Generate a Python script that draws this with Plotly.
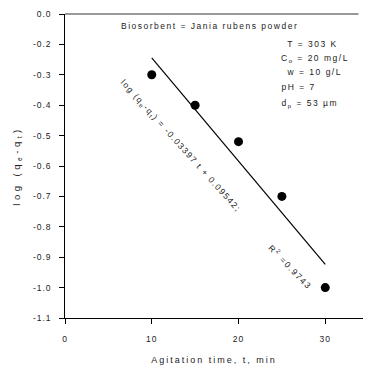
import plotly.graph_objects as go

# First-order kinetic plot: log(qe - qt) against agitation time
time_min = [10, 15, 20, 25, 30]
log_qe_qt = [-0.30, -0.40, -0.52, -0.70, -1.00]

# Fitted line: log(qe-qt) = -0.03397 t + 0.09542 (drawn over the measured span)
slope = -0.03397
intercept = 0.09542
fit_t = [10, 30]
fit_y = [slope * t + intercept for t in fit_t]

y_tickvals = [-0.1, -0.2, -0.3, -0.4, -0.5, -0.6, -0.7, -0.8, -0.9, -1.0, -1.1]
y_ticktext = ["0.0", "-0.2", "-0.3", "-0.4", "-0.5", "-0.6", "-0.7", "-0.8", "-0.9", "-1.0", "-1.1"]
x_tickvals = [0, 10, 20, 30]

FONT = "Liberation Sans, Arial, sans-serif"
TXT = "#222222"

fig = go.Figure()
fig.add_trace(go.Scatter(x=fit_t, y=fit_y, mode="lines",
                         line=dict(color="black", width=1.2), showlegend=False))
fig.add_trace(go.Scatter(x=time_min, y=log_qe_qt, mode="markers",
                         marker=dict(color="black", size=9), showlegend=False))

fig.update_layout(
    width=367, height=367,
    margin=dict(l=65, r=4, t=14, b=49),
    paper_bgcolor="white", plot_bgcolor="white",
    font=dict(family=FONT, size=8.5, color=TXT),
    xaxis=dict(range=[0, 34.35], tickvals=x_tickvals, ticks="outside", ticklen=5,
               tickcolor="black", showline=True, linecolor="black", linewidth=1,
               showgrid=False, zeroline=False, ticklabelstandoff=8,
               tickfont=dict(size=8.5),
               title=dict(text="Agitation time, t, min", font=dict(size=9), standoff=13)),
    yaxis=dict(range=[-1.1, -0.1], tickvals=y_tickvals, ticktext=y_ticktext,
               ticks="outside", ticklen=5, tickcolor="black", showline=True,
               linecolor="black", linewidth=1, showgrid=False, zeroline=False,
               ticklabelstandoff=6, tickfont=dict(size=8.5),
               title=dict(text="log (q<sub>e</sub>-q<sub>t</sub>)", font=dict(size=9.5), standoff=14)),
)

# Top frame line
fig.add_shape(type="line", xref="paper", yref="paper", x0=0, x1=0.985, y0=1, y1=1,
              line=dict(color="#777777", width=1.5))

# Text notes: (text, x, y, font size, letter spacing in px)
notes = [
    ("Biosorbent = Jania rubens powder", 0.485, 0.961, 8.5, 1.5),
    ("T = 303 K", 0.829, 0.901, 8.5, 1.5),
    ("C<sub>o</sub> = 20 mg/L", 0.838, 0.852, 8.5, 1.5),
    ("w = 10 g/L", 0.836, 0.809, 8.5, 1.5),
    ("pH = 7", 0.786, 0.760, 8.5, 1.5),
    ("d<sub>p</sub> = 53 µm", 0.823, 0.704, 8.5, 1.5),
]
for text, x, y, size, _ in notes:
    fig.add_annotation(text=text, x=x, y=y, xref="paper", yref="paper",
                       xanchor="center", yanchor="middle", showarrow=False,
                       font=dict(size=size, color=TXT, family=FONT))

fig.add_annotation(text="log (q<sub>e</sub>-q<sub>t</sub>) = -0.03397 t + 0.09542;",
                   x=0.386, y=0.567, xref="paper", yref="paper", showarrow=False,
                   textangle=48, font=dict(size=8.5, color=TXT, family=FONT))
fig.add_annotation(text="R<sup>2</sup> =0.9743", x=0.83, y=0.095,
                   xref="paper", yref="paper", showarrow=False,
                   textangle=46, font=dict(size=8.5, color=TXT, family=FONT))

spacings = [n[4] for n in notes] + [1.35, 1.5]

# Widely tracked lettering, applied to the rendered SVG text
post = """
var gd = document.getElementById('{plot_id}');
function track(sel, px) {
  gd.querySelectorAll(sel).forEach(function (t) { t.setAttribute('letter-spacing', px + 'px'); });
}
track('g.xtick text', 1.0);
track('g.ytick text', 0.9);
track('text.xtitle', 2.0);
track('text.ytitle', 3.5);
var sp = %s;
gd.querySelectorAll('text.annotation-text').forEach(function (t, i) {
  t.setAttribute('letter-spacing', sp[i] + 'px');
});
""" % (spacings,)

fig.write_html("out.html", post_script=post)
